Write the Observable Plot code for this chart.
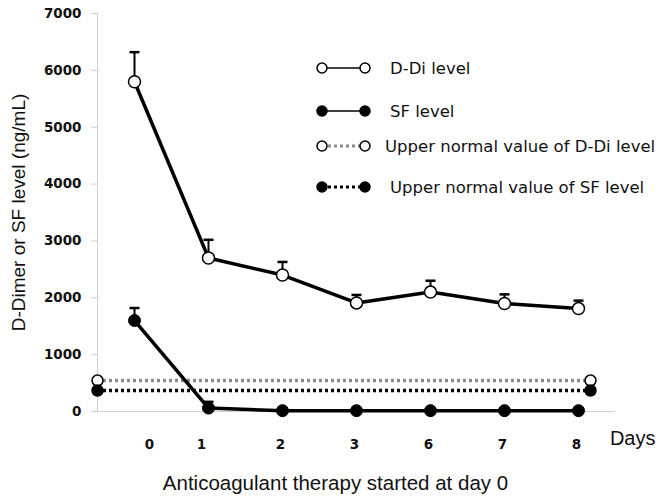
<!DOCTYPE html>
<html><head><meta charset="utf-8">
<script src="https://cdn.jsdelivr.net/npm/d3@7"></script>
<script src="https://cdn.jsdelivr.net/npm/@observablehq/plot@0.6"></script>
<style>body{margin:0;background:#fff;} #c{position:relative;width:672px;height:498px;}</style>
</head><body><div id="c"></div>
<script>
const days = ["0","1","2","3","6","7","8"];
const ddiValues = [5800, 2700, 2400, 1910, 2100, 1900, 1810];
const ddiUpper  = [6320, 3020, 2630, 2050, 2300, 2060, 1950];
const sfValues  = [1600, 60, 15, 15, 15, 15, 15];
const sfUpper   = [1820, 170, null, null, null, null, null];
const ddiNormal = 545;
const sfNormal = 370;
const yTicks = [0,1000,2000,3000,4000,5000,6000,7000];
const legendLabels = ["D-Di level","SF level","Upper normal value of D-Di level","Upper normal value of SF level"];

const ddi = days.map((d,i)=>({day:d, value:ddiValues[i], upper:ddiUpper[i]}));
const sf = days.map((d,i)=>({day:d, value:sfValues[i], upper:sfUpper[i]}));
const sfErr = sf.filter(d=>d.upper!=null);

const capSymbol = {draw(ctx, size){ const r = Math.sqrt(size/Math.PI); ctx.moveTo(-r,0); ctx.lineTo(r,0);} };
const tickFont = "DejaVu Sans, Verdana, sans-serif";

const chart = Plot.plot({
  width: 672, height: 498,
  marginLeft: 97, marginRight: 57, marginTop: 13, marginBottom: 87,
  style: {fontFamily: "Liberation Sans, Arial, sans-serif", background: "#fff"},
  x: {type: "point", domain: days, padding: 0.5, axis: null},
  y: {domain: [0, 7000], axis: null},
  marks: [
    Plot.ruleY([0], {stroke: "#d0d0d0", strokeWidth: 1}),
    Plot.frame({anchor: "left", stroke: "#d0d0d0"}),
    Plot.axisY(yTicks, {tickSize: 6, stroke: "#d0d0d0", tickPadding: 10, tickFormat: d => String(d), fontSize: 13.5, fontWeight: "bold", fontFamily: tickFont, fill: "#111", label: null}),
    Plot.axisX(days.slice(0,1), {tickSize: 0, tickPadding: 28, dx: 15, fontSize: 13.5, fontWeight: "bold", fontFamily: tickFont, fill: "#111", label: null}),
    Plot.axisX(days.slice(1,2), {tickSize: 0, tickPadding: 28, dx: -7, fontSize: 13.5, fontWeight: "bold", fontFamily: tickFont, fill: "#111", label: null}),
    Plot.axisX(days.slice(2), {tickSize: 0, tickPadding: 28, dx: -2, fontSize: 13.5, fontWeight: "bold", fontFamily: tickFont, fill: "#111", label: null}),
    Plot.text(["Days"], {frameAnchor: "bottom-right", textAnchor: "end", lineAnchor: "middle", dx: 40, dy: 27, fontSize: 20, fill: "#111"}),
    Plot.text(["D-Dimer or SF level (ng/mL)"], {frameAnchor: "left", textAnchor: "middle", lineAnchor: "middle", rotate: -90, dx: -79, dy: 0, fontSize: 19, fill: "#111"}),
    Plot.text(["Anticoagulant therapy started at day 0"], {frameAnchor: "bottom", textAnchor: "middle", lineAnchor: "middle", dx: -21, dy: 72, fontSize: 20.5, fill: "#111"}),
    // upper normal values
    Plot.ruleY([ddiNormal], {stroke: "#8c8c8c", strokeWidth: 3.5, strokeDasharray: "3,3", insetRight: 25}),
    Plot.ruleY([sfNormal], {stroke: "#000", strokeWidth: 3.5, strokeDasharray: "3,3", insetRight: 25}),
    Plot.dot([ddiNormal], {y: d=>d, frameAnchor: "left", r: 5.5, fill: "#fff", stroke: "#000", strokeWidth: 1.5}),
    Plot.dot([ddiNormal], {y: d=>d, frameAnchor: "right", dx: -25, r: 5.5, fill: "#fff", stroke: "#000", strokeWidth: 1.5}),
    Plot.dot([sfNormal], {y: d=>d, frameAnchor: "left", r: 5.5, fill: "#000", stroke: "#000"}),
    Plot.dot([sfNormal], {y: d=>d, frameAnchor: "right", dx: -25, r: 5.5, fill: "#000", stroke: "#000"}),
    // error bars
    Plot.ruleX(ddi, {x: "day", y1: "value", y2: "upper", stroke: "#000", strokeWidth: 2}),
    Plot.dot(ddi, {x: "day", y: "upper", symbol: capSymbol, r: 5, stroke: "#000", strokeWidth: 2.5}),
    Plot.ruleX(sfErr, {x: "day", y1: "value", y2: "upper", stroke: "#000", strokeWidth: 2}),
    Plot.dot(sfErr, {x: "day", y: "upper", symbol: capSymbol, r: 5, stroke: "#000", strokeWidth: 2.5}),
    // lines
    Plot.line(ddi, {x: "day", y: "value", stroke: "#000", strokeWidth: 3.5}),
    Plot.line(sf, {x: "day", y: "value", stroke: "#000", strokeWidth: 3.5}),
    Plot.dot(ddi, {x: "day", y: "value", r: 6, fill: "#fff", stroke: "#000", strokeWidth: 1.5}),
    Plot.dot(sf, {x: "day", y: "value", r: 6, fill: "#000", stroke: "#000", strokeWidth: 1})
  ]
});
document.getElementById("c").appendChild(chart);

// legend
const svg = d3.select(chart);
const lg = svg.append("g").attr("font-family", tickFont).attr("font-size", 16.5).attr("fill", "#111").attr("text-anchor", "start");
const rows = [
  {y: 68, fill: "#fff", dash: null, stroke: "#000", tx: 390},
  {y: 111, fill: "#000", dash: null, stroke: "#000", tx: 390},
  {y: 146, fill: "#fff", dash: "3,3", stroke: "#8c8c8c", tx: 385},
  {y: 187, fill: "#000", dash: "3,3", stroke: "#000", tx: 390}
];
rows.forEach((r, i) => {
  const g = lg.append("g");
  g.append("line").attr("x1", 322).attr("x2", 365).attr("y1", r.y).attr("y2", r.y)
    .attr("stroke", r.stroke).attr("stroke-width", r.dash ? 3 : 1.5).attr("stroke-dasharray", r.dash);
  [322, 365].forEach(cx => g.append("circle").attr("cx", cx).attr("cy", r.y).attr("r", 5)
    .attr("fill", r.fill).attr("stroke", "#000").attr("stroke-width", 1.5));
  g.append("text").attr("x", r.tx).attr("y", r.y).attr("dy", "0.35em").attr("text-anchor", "start").text(legendLabels[i]);
});
</script></body></html>
